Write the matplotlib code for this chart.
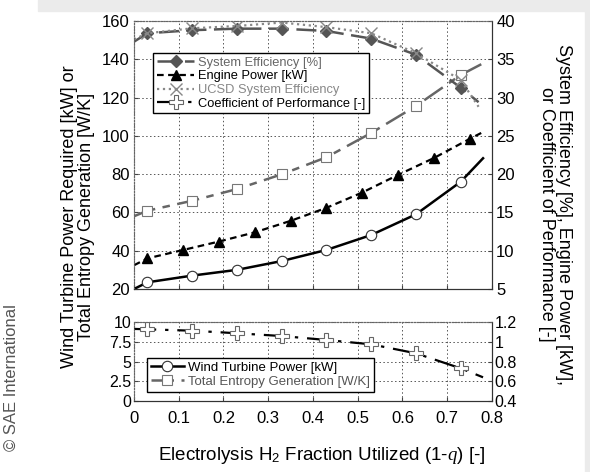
import matplotlib.pyplot as plt
from matplotlib.patches import Rectangle

plt.rcParams['font.family'] = ['Liberation Sans', 'DejaVu Sans']
plt.rcParams['mathtext.fontset'] = 'custom'
plt.rcParams['mathtext.rm'] = 'Liberation Sans'
plt.rcParams['mathtext.it'] = 'Liberation Serif:italic'

# data
x_main = [0, 0.03, 0.13, 0.23, 0.33, 0.43, 0.53, 0.63, 0.73, 0.78]
wind_power = [20, 23.5, 27, 30, 34.6, 40.4, 48.2, 59, 76, 88.3]
entropy_gen = [58, 60.9, 66.1, 72.2, 79.9, 88.8, 101.5, 115.6, 131.8, 137.9]

x_engine = [0, 0.03, 0.11, 0.19, 0.27, 0.35, 0.43, 0.51, 0.59, 0.67, 0.75, 0.78]
engine_power = [8.1, 9.0, 10.1, 11.2, 12.4, 13.9, 15.6, 17.6, 19.9, 22.1, 24.6, 25.5]

x_eff = [0, 0.03, 0.13, 0.23, 0.33, 0.43, 0.53, 0.63, 0.73, 0.77]
sys_eff = [37.3, 38.4, 38.8, 39.0, 39.0, 38.7, 37.7, 35.6, 31.3, 29.4]
ucsd_eff = [37.6, 38.4, 39.05, 39.35, 39.8, 39.2, 38.4, 35.8, 32.3, 28.8]

cop = [1.13, 1.126, 1.112, 1.086, 1.058, 1.018, 0.974, 0.883, 0.731, 0.64]

x_ticks = [0, 0.1, 0.2, 0.3, 0.4, 0.5, 0.6, 0.7, 0.8]
top_left_ticks = [20, 40, 60, 80, 100, 120, 140, 160]
top_right_ticks = [5, 10, 15, 20, 25, 30, 35, 40]
bot_left_ticks = [0, 2.5, 5, 7.5, 10]
bot_right_ticks = [0.4, 0.6, 0.8, 1, 1.2]

fig = plt.figure(figsize=(5.9, 4.72), dpi=100)
fig.patches.append(Rectangle((38 / 590, 1 - 11 / 472), 1, 11 / 472, transform=fig.transFigure,
                             color='#ebebeb', zorder=0))
fig.patches.append(Rectangle((585 / 590, 0), 5 / 590, 1, transform=fig.transFigure,
                             color='#ebebeb', zorder=0))

ax1 = fig.add_axes([0.2271, 0.3877, 0.6068, 0.5678])
ax1r = ax1.twinx()
ax2 = fig.add_axes([0.2271, 0.1504, 0.6068, 0.1674])
ax2r = ax2.twinx()

def mk(n):
    return list(range(1, n - 1))

# top panel, left axis
l_wind, = ax1.plot(x_main, wind_power, color='black', lw=1.8, marker='o', ms=7.5,
                   mfc='white', mec='#333333', mew=0.8, markevery=mk(len(x_main)),
                   label='Wind Turbine Power [kW]')
l_ent, = ax1.plot(x_main, entropy_gen, color='#666666', lw=1.8, dashes=(9, 3, 3, 3),
                  marker='s', ms=7.5, mfc='white', mec='#777777', mew=0.8,
                  markevery=mk(len(x_main)), label='Total Entropy Generation [W/K]')

# top panel, right axis
l_eff, = ax1r.plot(x_eff, sys_eff, color='#555555', lw=1.8, dashes=(8, 3), marker='D', ms=6,
                   mfc='#555555', mec='#555555', markevery=mk(len(x_eff)),
                   label='System Efficiency [%]')
l_eng, = ax1r.plot(x_engine, engine_power, color='black', lw=1.6, dashes=(3, 2), marker='^', ms=7,
                   mfc='black', mec='black', markevery=mk(len(x_engine)),
                   label='Engine Power [kW]')
l_ucsd, = ax1r.plot(x_eff, ucsd_eff, color='#888888', lw=1.6, ls=':', marker='x', ms=8,
                    mew=1.0, markevery=mk(len(x_eff)), label='UCSD System Efficiency')

# bottom panel, right axis
l_cop, = ax2r.plot(x_main, cop, color='black', lw=1.6, dashes=(10, 4, 1.5, 4), marker='P', ms=9.5,
                   mfc='white', mec='#666666', mew=0.8, markevery=mk(len(x_main)),
                   label='Coefficient of Performance [-]')

for ax in (ax1, ax2):
    ax.set_xlim(0, 0.8)
    ax.set_xticks(x_ticks)
    ax.grid(True, color='#555555', ls=(0, (1.5, 2.5)), lw=0.7)
ax1.tick_params(axis='x', labelbottom=False)
ax2.set_xticklabels(['0', '0.1', '0.2', '0.3', '0.4', '0.5', '0.6', '0.7', '0.8'])

ax1.set_ylim(20, 160)
ax1.set_yticks(top_left_ticks)
ax1r.set_ylim(5, 40)
ax1r.set_yticks(top_right_ticks)
ax2.set_ylim(0, 10)
ax2.set_yticks(bot_left_ticks)
ax2.set_yticklabels(['0', '2.5', '5', '7.5', '10'])
ax2r.set_ylim(0.4, 1.2)
ax2r.set_yticks(bot_right_ticks)
ax2r.set_yticklabels(['0.4', '0.6', '0.8', '1', '1.2'])

for ax in (ax1, ax1r, ax2, ax2r):
    ax.tick_params(direction='in', length=3, labelsize=12, pad=3, color='#444444')
    ax.spines['left'].set_linestyle(':')
    ax.spines['left'].set_color('#666666')
    ax.spines['top'].set_linestyle(':')
    ax.spines['top'].set_color('#666666')
    ax.spines['right'].set_color('#333333')
    ax.spines['bottom'].set_color('#333333')
for ax in (ax2, ax2r):
    ax.tick_params(axis='y', labelsize=11.5, pad=2)
ax2.tick_params(axis='x', pad=7)

leg1 = ax1r.legend(handles=[l_eff, l_eng, l_ucsd, l_cop], loc='upper left',
                   bbox_to_anchor=(0.035, 0.905), fontsize=9.3, labelspacing=0.12,
                   handlelength=2.9, handletextpad=0.3, borderpad=0.3, fancybox=False,
                   framealpha=1, edgecolor='black')
leg1.get_frame().set_linewidth(1.0)
for t, c in zip(leg1.get_texts(), ['#666666', 'black', '#888888', 'black']):
    t.set_color(c)

leg2 = ax2r.legend(handles=[l_wind, l_ent], loc='upper left', bbox_to_anchor=(0.018, 0.63),
                   fontsize=9.5, labelspacing=0.12, handlelength=2.5, handletextpad=0.3,
                   borderpad=0.3, fancybox=False, framealpha=1, edgecolor='black')
leg2.get_frame().set_linewidth(1.0)
for t, c in zip(leg2.get_texts(), ['black', '#555555']):
    t.set_color(c)

fig.text(0.133, 0.54, 'Wind Turbine Power Required [kW] or\nTotal Entropy Generation [W/K]',
         rotation=90, ha='center', va='center', fontsize=13, linespacing=1.0)
fig.text(0.94, 0.545, 'System Efficiency [%], Engine Power [kW],\nor Coefficient of Performance [-]',
         rotation=-90, ha='center', va='center', fontsize=13, linespacing=1.0)
fig.text(0.545, 0.036, r'Electrolysis H$_2$ Fraction Utilized (1-$q$) [-]',
         ha='center', va='center', fontsize=13.5)
fig.text(0.02, 0.2, '© SAE International', rotation=90, ha='center', va='center',
         fontsize=12, color='#555555')

fig.savefig('out.png', dpi=100)
